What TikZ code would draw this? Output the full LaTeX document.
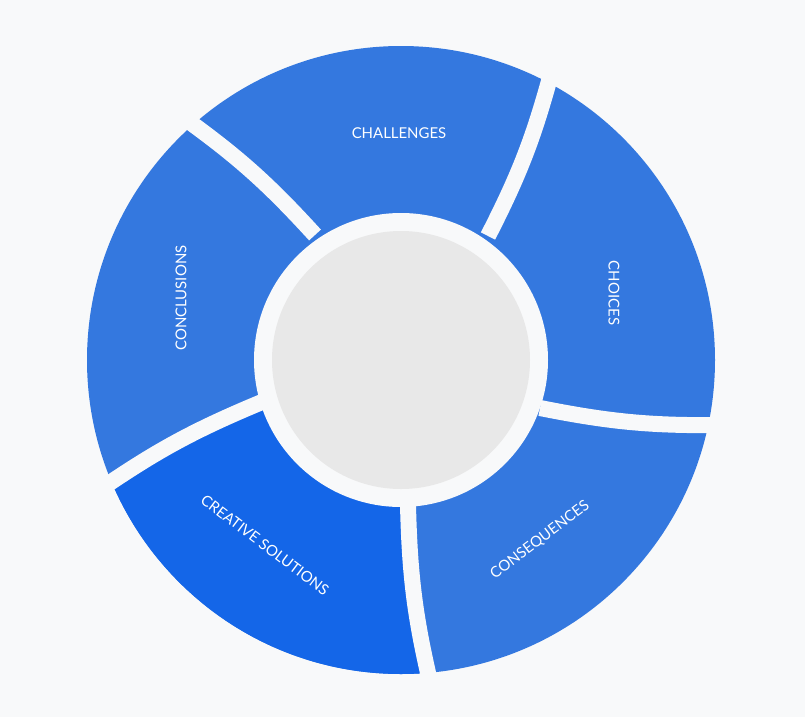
\documentclass[tikz,border=0pt]{standalone}
\usepackage{fontspec}
\setmainfont{Lato}
\definecolor{bg}{HTML}{F8F9FA}
\definecolor{seg}{HTML}{3478DF}
\definecolor{segb}{HTML}{1466E8}
\definecolor{hub}{HTML}{E8E8E8}
\begin{document}
\begin{tikzpicture}[x=0.02cm,y=-0.02cm,
  gap/.style={draw=bg,line width=0.32cm},
  lbl/.style={text=white,font=\fontsize{8.5}{10}\selectfont}]
\fill[bg] (0,0) rectangle (805,717);
\useasboundingbox (0,0) rectangle (805,717);
\coordinate (c) at (401,360);
\fill[seg] (c) circle[radius=314];
\begin{scope}
\clip (c) circle[radius=314];
\fill[segb] (408,505) to[bend right=6] (432,690) -- (420,760) -- (-50,760) -- (-50,520) -- (95,493) to[bend left=6] (262,402) -- cycle;
\end{scope}
\draw[gap] (552,70) to[bend left=6] (488,236);
\draw[gap] (725,425) to[bend left=6] (540,408);
\draw[gap] (432,690) to[bend left=6] (408,505);
\draw[gap] (95,493) to[bend left=6] (262,402);
\draw[gap] (180,115) to[bend left=6] (315,235);
\fill[bg] (c) circle[radius=147];
\fill[hub] (c) circle[radius=129];
\node[lbl] (t1) at (399,133) {CHALLENGES};
\node[lbl,rotate=-90] (t2) at (614,293) {CHOICES};
\node[lbl,rotate=90] (t3) at (181,298) {CONCLUSIONS};
\node[lbl,rotate=-37] (t4) at (265,545) {CREATIVE SOLUTIONS};
\node[lbl,rotate=37] (t5) at (540,540) {CONSEQUENCES};
\end{tikzpicture}
\end{document}
